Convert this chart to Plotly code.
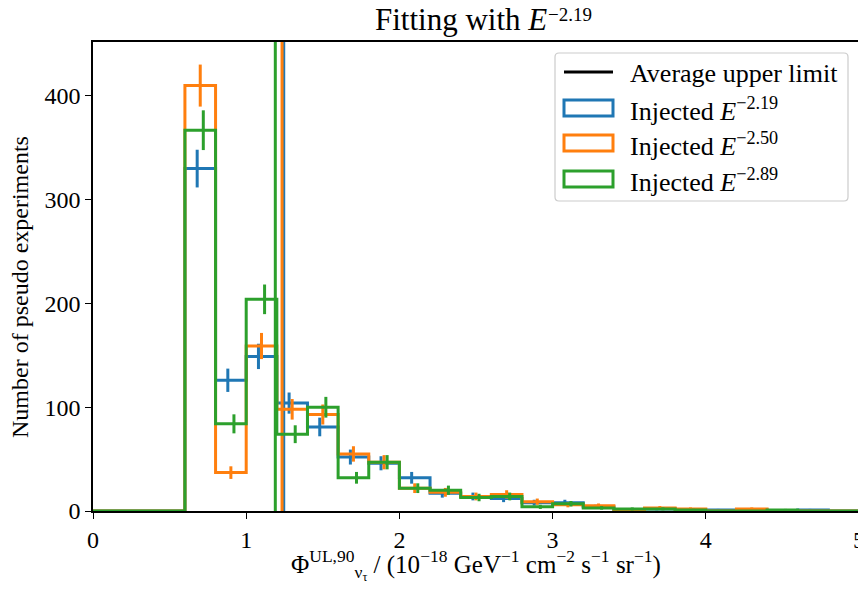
import numpy as np
import plotly.graph_objects as go

# ---------------- data ----------------
BIN_EDGES = [0.0, 0.2, 0.4, 0.6, 0.8, 1.0, 1.2, 1.4, 1.6, 1.8, 2.0, 2.2, 2.4,
             2.6, 2.8, 3.0, 3.2, 3.4, 3.6, 3.8, 4.0, 4.2, 4.4, 4.6, 4.8, 5.0]
COUNTS_219 = [0, 0, 0, 330, 126, 149, 104, 81, 52, 46, 32, 17, 14, 12, 8, 8, 4,
              1, 2, 1, 1, 1, 0, 1, 0]
COUNTS_250 = [0, 0, 0, 410, 37, 159, 98, 93, 55, 47, 22, 18, 14, 16, 9, 6, 5,
              1, 3, 2, 0, 2, 0, 0, 0]
COUNTS_289 = [0, 0, 0, 367, 84, 204, 74, 100, 32, 47, 22, 20, 13, 14, 4, 7, 3,
              2, 2, 1, 0, 0, 1, 0, 0]
AVG_UPPER_LIMIT = [1.245, 1.234, 1.190]
SPECTRAL_INDEX = ["2.19", "2.50", "2.89"]
FIT_INDEX = "2.19"
ERR_OFFSET = [-0.02, 0.0, 0.02]
COLORS = ["#1f77b4", "#ff7f0e", "#2ca02c"]
X_TICKS = [0, 1, 2, 3, 4, 5]
Y_TICKS = [0, 100, 200, 300, 400]
X_RANGE = [0, 5]
Y_RANGE = [0, 452]

FONT = "Liberation Serif"
FS = 24

# ---------------- layout geometry (pixels, in screenshot coords) ----------------
OFF = 8                      # default page margin of the html body
SW, SH = 866, 589            # screenshot size
W, H = SW - OFF, SH - 2 * OFF        # figure size
PL, PR, PT, PB = 93, 859, 42, 511    # plot area in screenshot pixels
ML, MR, MT, MB = PL - OFF, W + OFF - PR, PT - OFF, H + OFF - PB


def px(xp):
    return (xp - PL) / (PR - PL)


def py(yp):
    return (PB - yp) / (PB - PT)


fig = go.Figure()
edges = np.array(BIN_EDGES)
centers = (edges[:-1] + edges[1:]) / 2

for counts, color, off, ul in zip([COUNTS_219, COUNTS_250, COUNTS_289],
                                  COLORS, ERR_OFFSET, AVG_UPPER_LIMIT):
    c = np.array(counts, dtype=float)
    xs = np.repeat(edges, 2)
    ys = np.concatenate([[0.0], np.repeat(c, 2), [0.0]])
    fig.add_trace(go.Scatter(x=xs, y=ys, mode="lines",
                             line=dict(color=color, width=3),
                             showlegend=False, hoverinfo="skip"))
    m = c > 0
    fig.add_trace(go.Scatter(x=centers[m] + off, y=c[m], mode="markers",
                             marker=dict(size=1, opacity=0, color=color),
                             error_y=dict(type="data", array=np.sqrt(c[m]),
                                          visible=True, color=color,
                                          thickness=3, width=0),
                             showlegend=False, hoverinfo="skip"))
    fig.add_trace(go.Scatter(x=[ul, ul], y=Y_RANGE, mode="lines",
                             line=dict(color=color, width=3),
                             showlegend=False, hoverinfo="skip"))

# ---------------- custom legend ----------------
shapes = []
annotations = []
x0, x1, y0, y1 = 555, 848, 53, 201
r = 4
rx = r / (PR - PL)
ry = r / (PB - PT)
X0, X1, Y0, Y1 = px(x0), px(x1), py(y1), py(y0)
path = (f"M {X0+rx},{Y0} L {X1-rx},{Y0} Q {X1},{Y0} {X1},{Y0+ry} "
        f"L {X1},{Y1-ry} Q {X1},{Y1} {X1-rx},{Y1} L {X0+rx},{Y1} "
        f"Q {X0},{Y1} {X0},{Y1-ry} L {X0},{Y0+ry} Q {X0},{Y0} {X0+rx},{Y0} Z")
shapes.append(dict(type="path", path=path, xref="paper", yref="paper",
                   line=dict(color="#cccccc", width=1.2),
                   fillcolor="rgba(255,255,255,0.8)", layer="above"))

rows = [72, 108, 143, 179]
labels = ["Average upper limit"] + [
    f"Injected <i>E</i><sup>\u2212{s}</sup>" for s in SPECTRAL_INDEX]
hx0, hx1 = 564, 613
shapes.append(dict(type="line", xref="paper", yref="paper",
                   x0=px(hx0), x1=px(hx1), y0=py(rows[0]), y1=py(rows[0]),
                   line=dict(color="black", width=3), layer="above"))
for rc, color in zip(rows[1:], COLORS):
    shapes.append(dict(type="rect", xref="paper", yref="paper",
                       x0=px(hx0), x1=px(hx1), y0=py(rc + 8), y1=py(rc - 8),
                       line=dict(color=color, width=3),
                       fillcolor="rgba(0,0,0,0)", layer="above"))
for rc, lab in zip(rows, labels):
    annotations.append(dict(text=lab, xref="paper", yref="paper",
                            x=px(628), y=py(rc + 1), xanchor="left",
                            yanchor="middle", showarrow=False,
                            font=dict(family=FONT, size=26, color="black")))

# axis titles and title as annotations for exact placement
annotations.append(dict(
    text="Number of pseudo experiments", xref="paper", yref="paper",
    x=px(20), y=py(287), xanchor="center", yanchor="middle", textangle=-90,
    showarrow=False, font=dict(family=FONT, size=24, color="black")))
annotations.append(dict(
    text="\u03a6<sup>UL,90</sup><sub>\u03bd<sub>\u03c4</sub></sub>"
         " / (10<sup>\u221218</sup> GeV<sup>\u22121</sup> "
         "cm<sup>\u22122</sup> s<sup>\u22121</sup> sr<sup>\u22121</sup>)",
    xref="paper", yref="paper", x=px(476), y=py(565), xanchor="center",
    yanchor="middle", showarrow=False,
    font=dict(family=FONT, size=25, color="black")))
# title: main part + hand-placed exponent (keeps it inside the figure)
annotations.append(dict(
    text="Fitting with <i>E</i>", xref="paper",
    yref="paper", x=px(549), y=py(20), xanchor="right", yanchor="middle",
    showarrow=False, font=dict(family=FONT, size=31, color="black")))
annotations.append(dict(
    text=f"\u2212{FIT_INDEX}", xref="paper",
    yref="paper", x=px(546), y=py(15), xanchor="left", yanchor="middle",
    showarrow=False, font=dict(family=FONT, size=19, color="black")))

axis_common = dict(showgrid=False, zeroline=False, showline=True,
                   linecolor="black", linewidth=1.5, mirror=True,
                   ticks="outside", ticklen=6, tickwidth=1.3,
                   tickcolor="black", automargin=False,
                   tickfont=dict(family=FONT, size=FS, color="black"))

fig.update_layout(
    width=W, height=H,
    margin=dict(l=ML, r=MR, t=MT, b=MB, pad=0),
    paper_bgcolor="white", plot_bgcolor="white",
    xaxis=dict(range=X_RANGE, tickvals=X_TICKS,
               ticktext=[str(t) for t in X_TICKS], **axis_common),
    yaxis=dict(range=Y_RANGE, tickvals=Y_TICKS,
               ticktext=[str(t) for t in Y_TICKS], **axis_common),
    shapes=shapes, annotations=annotations,
    showlegend=False,
)

fig.write_html("out.html")
